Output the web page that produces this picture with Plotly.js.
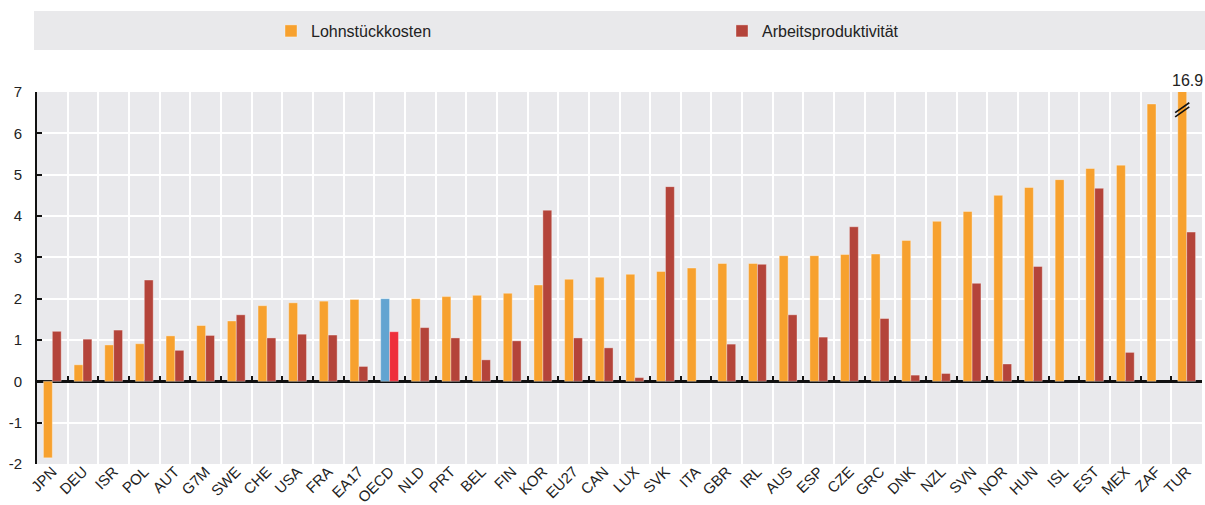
<!DOCTYPE html>
<html>
<head>
<meta charset="utf-8">
<script src="https://cdn.plot.ly/plotly-3.0.1.min.js"></script>
<style>html,body{margin:0;padding:0;background:#fff;}#chart{width:1205px;height:505px;}</style>
</head>
<body>
<div id="chart"></div>
<script>
// ---- data ----
const categories = ["JPN","DEU","ISR","POL","AUT","G7M","SWE","CHE","USA","FRA","EA17","OECD","NLD","PRT","BEL","FIN","KOR","EU27","CAN","LUX","SVK","ITA","GBR","IRL","AUS","ESP","CZE","GRC","DNK","NZL","SVN","NOR","HUN","ISL","EST","MEX","ZAF","TUR"];
const lohnstueckkosten = [-1.85,0.40,0.88,0.91,1.10,1.35,1.46,1.83,1.90,1.94,1.98,2.00,2.00,2.05,2.08,2.13,2.33,2.47,2.52,2.59,2.66,2.74,2.85,2.85,3.04,3.04,3.07,3.08,3.41,3.87,4.11,4.50,4.69,4.88,5.15,5.23,6.71,16.9];
const arbeitsproduktivitaet = [1.21,1.02,1.24,2.45,0.75,1.11,1.61,1.05,1.14,1.12,0.36,1.20,1.30,1.05,0.52,0.98,4.14,1.05,0.81,0.09,4.71,null,0.90,2.83,1.61,1.07,3.74,1.52,0.15,0.19,2.37,0.42,2.78,null,4.67,0.70,null,3.61];
const seriesNames = ["Lohnstückkosten","Arbeitsproduktivität"];
const yTicks = [-2,-1,0,1,2,3,4,5,6,7];
const highlightCategory = "OECD";
const brokenCategory = "TUR";
const yMin = -2, yMax = 7;

// ---- styles ----
const ORANGE = "#F7A12E", RED = "#B4443A", BLUE = "#62A4D1", BRIGHTRED = "#EE2F3B";
const GRID = "#ffffff", PLOTBG = "#E9E9EC";
const SANS = "'Liberation Sans', Arial, sans-serif";

const W = 1205, H = 505;
const M = {l: 37, r: 3, t: 92, b: 41};
const plotH = H - M.t - M.b, plotW = W - M.l - M.r;
const pyPaper = px => (H - M.b - px) / plotH;   // page pixel y -> paper y
const pxPaper = px => (px - M.l) / plotW;       // page pixel x -> paper x

const c1 = categories.map(c => c === highlightCategory ? BLUE : ORANGE);
const c2 = categories.map(c => c === highlightCategory ? BRIGHTRED : RED);

const traces = [
  {type: "bar", name: seriesNames[0], x: categories, y: lohnstueckkosten,
   marker: {color: c1, line: {color: "rgba(255,255,255,0.35)", width: 1}}, hoverinfo: "x+y"},
  {type: "bar", name: seriesNames[1], x: categories, y: arbeitsproduktivitaet,
   marker: {color: c2, line: {color: "rgba(255,255,255,0.35)", width: 1}}, hoverinfo: "x+y"},
  // helper (invisible) trace so the zero-line tick axis is drawn
  {type: "scatter", x: [0], y: [null], xaxis: "x2", yaxis: "y", showlegend: false, hoverinfo: "skip", mode: "markers"}
];

const bargap = 0.42;
const barW = (1 - bargap) / 2;
const tIdx = categories.indexOf(brokenCategory);
const tX = tIdx - barW / 2;
const tVal = lohnstueckkosten[tIdx];

const boundaries = categories.slice(1).map((_, i) => i + 0.5);

const shapes = [
  {type: "rect", xref: "paper", yref: "paper", x0: pxPaper(34), x1: pxPaper(1205), y0: pyPaper(50), y1: pyPaper(11),
   fillcolor: "#E9E9EB", line: {width: 0}, layer: "below"},
  // axis break marks on the truncated bar
  {type: "line", xref: "x2", yref: "y", x0: tX - 0.23, x1: tX + 0.23, y0: yMax - 0.50, y1: yMax - 0.26, line: {color: "#111", width: 1.6}},
  {type: "line", xref: "x2", yref: "y", x0: tX - 0.23, x1: tX + 0.23, y0: yMax - 0.60, y1: yMax - 0.36, line: {color: "#111", width: 1.6}}
];

const annotations = [
  {xref: "x2", yref: "y", x: tX, y: yMax, text: String(tVal), showarrow: false, yanchor: "bottom", xshift: 5, yshift: 1,
   font: {family: SANS, size: 16, color: "#222"}}
];

const layout = {
  width: W, height: H, margin: M,
  paper_bgcolor: "#ffffff", plot_bgcolor: PLOTBG,
  barmode: "group", bargap: bargap, bargroupgap: 0,
  showlegend: true,
  legend: {orientation: "h", x: pxPaper(271), xanchor: "left", y: pyPaper(31), yanchor: "middle",
           bgcolor: "rgba(0,0,0,0)", font: {family: SANS, size: 16, color: "#222"},
           entrywidth: 406, entrywidthmode: "pixels", traceorder: "normal"},
  xaxis: {type: "category", categoryorder: "array", categoryarray: categories, range: [-0.5, categories.length - 0.5],
          tickson: "boundaries", ticks: "", showgrid: true, gridcolor: GRID, gridwidth: 2,
          showline: false, zeroline: false, tickangle: -45, ticklabelstandoff: -5,
          tickfont: {family: SANS, size: 15, color: "#222"}, automargin: false},
  xaxis2: {type: "linear", overlaying: "x", anchor: "free", position: (0 - yMin) / (yMax - yMin), side: "bottom",
           range: [-0.5, categories.length - 0.5], autorange: false, tickmode: "array", tickvals: boundaries,
           ticks: "inside", ticklen: 5, tickwidth: 2, tickcolor: "#111", showticklabels: false,
           showgrid: false, zeroline: false, showline: false},
  yaxis: {range: [yMin, yMax], autorange: false, tickmode: "array", tickvals: yTicks, ticktext: yTicks.map(String),
          showgrid: true, gridcolor: GRID, gridwidth: 2,
          zeroline: true, zerolinecolor: "#111", zerolinewidth: 2.5,
          showline: true, linecolor: "#111", linewidth: 2, ticks: "inside", ticklen: 5, tickwidth: 2, tickcolor: "#111",
          ticklabelstandoff: 10, tickfont: {family: SANS, size: 15, color: "#222"}, automargin: false},
  shapes: shapes, annotations: annotations
};

Plotly.newPlot("chart", traces, layout, {displayModeBar: false, staticPlot: true});
</script>
</body>
</html>
